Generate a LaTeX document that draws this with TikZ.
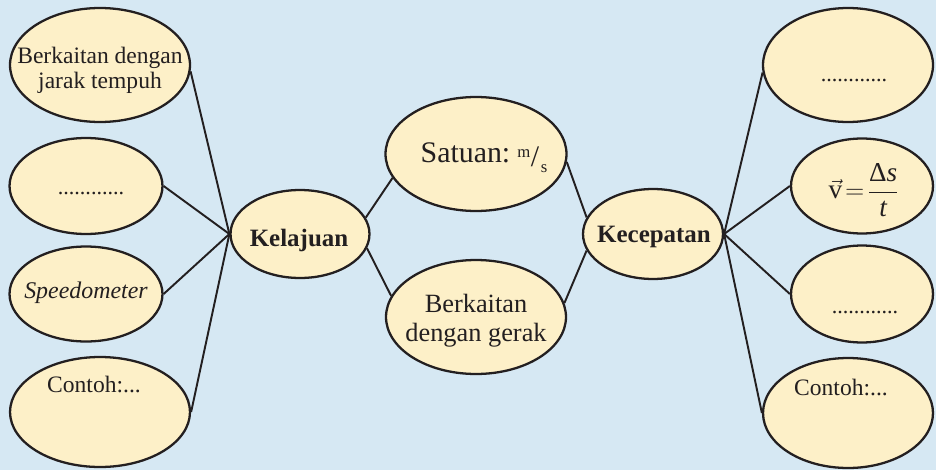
\documentclass[tikz,border=0pt]{standalone}
\usepackage{fontspec}
\setmainfont{Liberation Serif}
\usetikzlibrary{shapes.geometric}

\definecolor{bgblue}{RGB}{214,232,243}
\definecolor{bubble}{RGB}{253,240,200}
\definecolor{ink}{RGB}{35,31,32}

\tikzset{
  bubble/.style={ellipse, draw=ink, fill=bubble, line width=1.3pt, inner sep=0pt},
  txt/.style={text=ink, align=center, inner sep=0pt, font=\fontsize{13.4}{14.2}\selectfont},
  bold/.style={txt, font=\fontsize{14.2}{15}\selectfont\bfseries},
  link/.style={draw=ink, line width=1.1pt}
}

\begin{document}
\begin{tikzpicture}[x=0.02cm,y=-0.02cm]

\fill[bgblue] (0,0) rectangle (936,470);
\useasboundingbox (0,0) rectangle (936,470);

% ellipses, left side
\node[bubble, minimum width=3.6cm, minimum height=2.28cm] (jarak) at (100,65) {};
\node[bubble, minimum width=3.06cm, minimum height=1.92cm] (titikL) at (86,186) {};
\node[bubble, minimum width=3.06cm, minimum height=1.9cm] (speedo) at (86,294) {};
\node[bubble, minimum width=3.6cm, minimum height=2.2cm] (contohL) at (100,412) {};
\node[bubble, minimum width=2.78cm, minimum height=1.76cm] (kel) at (300,234) {};

% ellipses, middle
\node[bubble, minimum width=3.62cm, minimum height=2.28cm] (satuan) at (476,154) {};
\node[bubble, minimum width=3.6cm, minimum height=2.28cm] (gerak) at (476,317) {};

% ellipses, right side
\node[bubble, minimum width=2.8cm, minimum height=1.8cm] (kec) at (653,234) {};
\node[bubble, minimum width=3.4cm, minimum height=2.28cm] (titikR1) at (848,65) {};
\node[bubble, minimum width=2.84cm, minimum height=1.9cm] (rumus) at (862,186) {};
\node[bubble, minimum width=2.84cm, minimum height=1.94cm] (titikR2) at (862,294) {};
\node[bubble, minimum width=3.4cm, minimum height=2.2cm] (contohR) at (848,413) {};

% texts
\node[txt] (jarak-t) at (100,70) {Berkaitan dengan\\jarak tempuh};
\node[txt, anchor=base, font=\fontsize{12.6}{13}\selectfont] (titikL-t) at (91,194) {............};
\node[txt, anchor=base, font=\fontsize{13.6}{14}\selectfont\itshape] (speedo-t) at (86,298) {Speedometer};
\node[txt, anchor=base] (contohL-t) at (94,392) {Contoh:...};
\node[bold, anchor=base] (kel-t) at (299,246) {Kelajuan};

\node[txt, anchor=base, font=\fontsize{17}{18}\selectfont] (satuan-t) at (484,162)
  {Satuan:\hspace{4pt}\raisebox{2.5pt}{\fontsize{9.5}{10}\selectfont m}\kern0.3pt\raisebox{-2.5pt}{\fontsize{17}{17}\selectfont/}\kern1pt\raisebox{-5.7pt}{\fontsize{9.5}{10}\selectfont s}};
\node[txt, font=\fontsize{15}{16.5}\selectfont] (gerak-t) at (476,320.5) {Berkaitan\\dengan gerak};

\node[bold, anchor=base] (kec-t) at (654,242) {Kecepatan};
\node[txt, anchor=base, font=\fontsize{12.6}{13}\selectfont] (titikR1-t) at (854,81) {............};
\node[txt, font=\fontsize{15.5}{16}\selectfont] (rumus-t) at (864,190)
  {$\vec{\mbox{v}}\!=\!\displaystyle\frac{\mbox{Δ\itshape s}}{\mbox{\itshape t}}$};
\node[txt, anchor=base, font=\fontsize{12.6}{13}\selectfont] (titikR2-t) at (865,313) {............};
\node[txt, anchor=base] (contohR-t) at (841,395) {Contoh:...};

% connectors
\draw[link] (kel.west) -- (jarak.-4);
\draw[link] (kel.west) -- (titikL.east);
\draw[link] (kel.west) -- (speedo.east);
\draw[link] (kel.west) -- (contohL.east);

\draw[link] (kel.14) -- (satuan.196);
\draw[link] (kel.-12) -- (gerak.166);
\draw[link] (kec.166) -- (satuan.-5);
\draw[link] (kec.194) -- (gerak.9);

\draw[link] (kec.east) -- (titikR1.185);
\draw[link] (kec.east) -- (rumus.west);
\draw[link] (kec.east) -- (titikR2.west);
\draw[link] (kec.east) -- (contohR.west);

\end{tikzpicture}
\end{document}
